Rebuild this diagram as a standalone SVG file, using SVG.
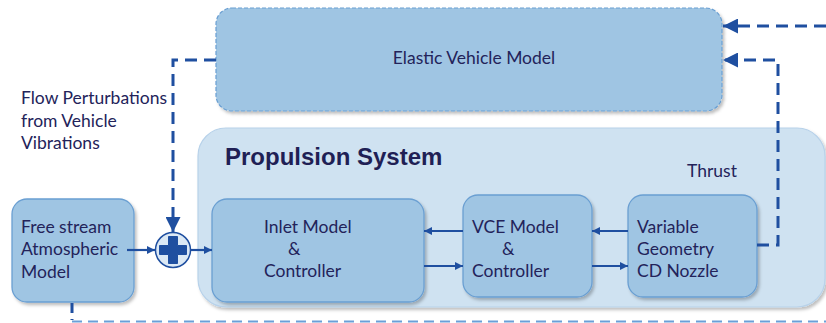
<svg xmlns="http://www.w3.org/2000/svg" width="826" height="323" viewBox="0 0 826 323">
<defs>
<style>
.node{fill:#9fc5e3;stroke:#6a9fd2;stroke-width:1.3;filter:url(#sh)}
.txt{font-family:Lato,"Open Sans",sans-serif;font-size:17.5px;fill:#23235a}
.title{font-family:"Liberation Sans",Arial,sans-serif;font-weight:bold;font-size:24px;fill:#1f1f55}
.solid{fill:none;stroke:#1f4fa0;stroke-width:2.2}
.dash{fill:none;stroke:#1f4fa0;stroke-width:3;stroke-dasharray:12 7}
</style>
<filter id="sh" x="-10%" y="-10%" width="125%" height="130%">
<feDropShadow dx="2" dy="2.5" stdDeviation="1.5" flood-color="#000" flood-opacity="0.25"/>
</filter>
<marker id="ah" viewBox="0 0 10 10" refX="10" refY="5" markerWidth="8" markerHeight="8" markerUnits="userSpaceOnUse" orient="auto">
<path d="M0,0 L10,5 L0,10 Z" fill="#1f4fa0"/>
</marker>
<marker id="ahd" viewBox="0 0 10 10" refX="10" refY="5" markerWidth="5" markerHeight="5" orient="auto">
<path d="M0,0 L10,5 L0,10 Z" fill="#1f4fa0"/>
</marker>
</defs>

<g id="propulsion-system">
<rect x="198" y="128" width="627" height="179" rx="28" fill="#cfe2f1" stroke="#b8d2ea" stroke-width="1.2" filter="url(#sh)"/>
<text class="title" x="225" y="165">Propulsion System</text>
</g>

<g id="elastic-vehicle-model">
<rect x="216" y="8" width="506" height="103" rx="16" fill="#9fc5e3" stroke="#6a9fd2" stroke-width="1.2" stroke-dasharray="4 2" filter="url(#sh)"/>
<text class="txt" x="474" y="64" text-anchor="middle">Elastic Vehicle Model</text>
</g>

<g id="flow-label">
<text class="txt" x="21" y="104">Flow Perturbations</text>
<text class="txt" x="21" y="127">from Vehicle</text>
<text class="txt" x="21" y="149">Vibrations</text>
</g>

<g id="thrust-label">
<text class="txt" x="687" y="177">Thrust</text>
</g>

<g id="free-stream">
<rect class="node" x="12" y="199" width="122" height="103" rx="15"/>
<text class="txt" x="21" y="233">Free stream</text>
<text class="txt" x="21" y="255">Atmospheric</text>
<text class="txt" x="21" y="278">Model</text>
</g>

<g id="summing-junction">
<circle cx="173" cy="250" r="17.5" fill="#dce9f5" stroke="#1f4fa0" stroke-width="1.5"/>
<path d="M168.5,236.5 h9 v9 h9 v9 h-9 v9 h-9 v-9 h-9 v-9 h9 Z" fill="#1f4fa0" stroke="#1f4fa0" stroke-width="1" stroke-linejoin="round"/>
</g>

<g id="inlet-model">
<rect class="node" x="212" y="199" width="212" height="103" rx="15"/>
<text class="txt" x="264" y="233">Inlet Model</text>
<text class="txt" x="288" y="255">&amp;</text>
<text class="txt" x="264" y="277">Controller</text>
</g>

<g id="vce-model">
<rect class="node" x="463" y="195" width="129" height="102" rx="15"/>
<text class="txt" x="472" y="233">VCE Model</text>
<text class="txt" x="502" y="255">&amp;</text>
<text class="txt" x="472" y="277">Controller</text>
</g>

<g id="nozzle">
<rect class="node" x="628" y="195" width="129" height="102" rx="15"/>
<text class="txt" x="637" y="233">Variable</text>
<text class="txt" x="637" y="255">Geometry</text>
<text class="txt" x="637" y="277">CD Nozzle</text>
</g>

<g id="connectors">
<line class="solid" x1="127" y1="250" x2="155" y2="250" marker-end="url(#ah)"/>
<line class="solid" x1="191" y1="250" x2="212" y2="250" marker-end="url(#ah)"/>
<line class="solid" x1="463" y1="231" x2="424" y2="231" marker-end="url(#ah)"/>
<line class="solid" x1="424" y1="266" x2="463" y2="266" marker-end="url(#ah)"/>
<line class="solid" x1="628" y1="231" x2="592" y2="231" marker-end="url(#ah)"/>
<line class="solid" x1="592" y1="266" x2="628" y2="266" marker-end="url(#ah)"/>
<path class="dash" d="M216,60 H173 V232" marker-end="url(#ahd)"/>
<path class="dash" d="M826,26 H723" marker-end="url(#ahd)"/>
<path class="dash" d="M757,245 H778 V60 H723" marker-end="url(#ahd)"/>
<path d="M72,303 V320" fill="none" stroke="#1f4fa0" stroke-width="3" stroke-dasharray="10 6"/>
<path d="M72,321.5 H826" fill="none" stroke="#6a9fd8" stroke-width="2" stroke-dasharray="10 6"/>
</g>
</svg>
